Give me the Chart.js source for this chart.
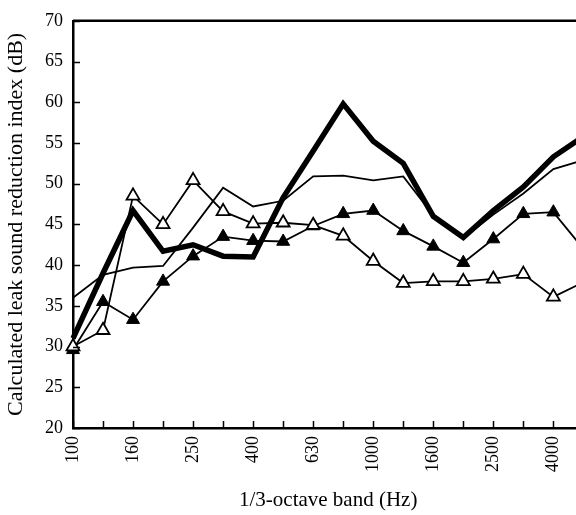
<!DOCTYPE html>
<html>
<head>
<meta charset="utf-8">
<script src="https://cdn.jsdelivr.net/npm/chart.js@4"></script>
<style>
  html, body { margin: 0; padding: 0; background: #fff; overflow: hidden; }
  #wrap { width: 613px; height: 515px; }
</style>
</head>
<body>
<div id="wrap"><canvas id="leakChart" width="613" height="515"></canvas></div>
<script>
// 1/3-octave bands (the last one runs off the right edge of the picture)
const bands = ['100', '125', '160', '200', '250', '315', '400', '500', '630',
    '800', '1000', '1250', '1600', '2000', '2500', '3150', '4000', '5000'];

// (dB)
const thickLine = [31.0, 39.0, 46.7, 41.7, 42.5, 41.1, 41.0, 48.3, 54.0,
    59.8, 55.2, 52.5, 46.0, 43.4, 46.7, 49.6, 53.3, 55.8];
const thinLine = [36.0, 38.8, 39.7, 39.9, 44.6, 49.5, 47.2, 47.9, 50.9,
    51.0, 50.4, 50.9, 46.1, 43.3, 46.2, 48.8, 51.8, 52.9];
const filledTri = [29.6, 35.5, 33.3, 38.0, 41.1, 43.5, 43.0, 42.9, 44.8,
    46.3, 46.7, 44.2, 42.3, 40.3, 43.2, 46.3, 46.5, 42.0];
const openTri = [30.0, 32.0, 48.5, 45.0, 50.4, 46.6, 45.1, 45.2, 44.9,
    43.6, 40.5, 37.8, 38.0, 38.0, 38.3, 38.9, 36.1, 37.9];

const yMin = 20, yMax = 70, yStep = 5;

// ticks pointing into the plot + frame on top/right
const insideTicks = {
    id: 'insideTicks',
    afterDraw(chart) {
        const ctx = chart.ctx;
        const area = chart.chartArea;
        const xs = chart.scales.x, ys = chart.scales.y;
        ctx.save();
        ctx.strokeStyle = '#000';
        ctx.lineWidth = 1.5;
        ctx.beginPath();
        for (let i = 0; i < xs.ticks.length; i++) {
            const px = Math.round(xs.getPixelForTick(i)) + 0.5;
            ctx.moveTo(px, area.bottom);
            ctx.lineTo(px, area.bottom - 7);
        }
        for (let i = 0; i < ys.ticks.length; i++) {
            const py = Math.round(ys.getPixelForTick(i)) + 0.5;
            ctx.moveTo(area.left, py);
            ctx.lineTo(area.left + 7, py);
        }
        ctx.stroke();
        ctx.lineWidth = 2.5;
        ctx.beginPath();
        ctx.moveTo(area.left, area.top);
        ctx.lineTo(area.right, area.top);
        ctx.lineTo(area.right, area.bottom);
        ctx.stroke();
        ctx.restore();
    }
};

const serif = '"Liberation Serif", "Times New Roman", serif';

new Chart(document.getElementById('leakChart').getContext('2d'), {
    type: 'line',
    data: {
        labels: bands,
        datasets: [
            {
                label: 'open',
                data: openTri,
                borderColor: '#000',
                borderWidth: 1.8,
                pointStyle: 'triangle',
                pointRadius: 7.5,
                pointBackgroundColor: '#fff',
                pointBorderColor: '#000',
                pointBorderWidth: 1.8,
                tension: 0
            },
            {
                label: 'filled',
                data: filledTri,
                borderColor: '#000',
                borderWidth: 1.8,
                pointStyle: 'triangle',
                pointRadius: 7.5,
                pointBackgroundColor: '#000',
                pointBorderColor: '#000',
                pointBorderWidth: 1,
                tension: 0
            },
            {
                label: 'thin',
                data: thinLine,
                borderColor: '#000',
                borderWidth: 1.8,
                pointRadius: 0,
                tension: 0
            },
            {
                label: 'thick',
                data: thickLine,
                borderColor: '#000',
                borderWidth: 5.5,
                pointRadius: 0,
                tension: 0
            }
        ]
    },
    options: {
        responsive: false,
        animation: false,
        layout: { padding: { top: 16, right: 4, left: 0, bottom: 0 } },
        plugins: {
            legend: { display: false },
            tooltip: { enabled: false }
        },
        scales: {
            x: {
                offset: false,
                grid: { display: false, drawTicks: false },
                border: { display: true, color: '#000', width: 2.5 },
                ticks: {
                    color: '#000',
                    font: { family: serif, size: 18 },
                    autoSkip: false,
                    maxRotation: 90,
                    minRotation: 90,
                    padding: 8,
                    callback: function (val, i) {
                        return (i % 2 === 0 && i < bands.length - 1) ? bands[i] : '';
                    }
                },
                title: {
                    display: true,
                    text: '1/3-octave band (Hz)',
                    color: '#000',
                    font: { family: serif, size: 21 },
                    padding: { top: 0, bottom: 2 }
                },
                afterFit(s) { s.height = 87; }
            },
            y: {
                min: yMin,
                max: yMax,
                grid: { display: false, drawTicks: false },
                border: { display: true, color: '#000', width: 2.5 },
                ticks: {
                    stepSize: yStep,
                    color: '#000',
                    font: { family: serif, size: 18 },
                    padding: 10
                },
                title: {
                    display: true,
                    text: 'Calculated leak sound reduction index (dB)',
                    color: '#000',
                    font: { family: serif, size: 22 },
                    padding: { top: 3, bottom: 0 }
                },
                afterFit(s) { s.width = 73; }
            }
        }
    },
    plugins: [insideTicks]
});
</script>
</body>
</html>
